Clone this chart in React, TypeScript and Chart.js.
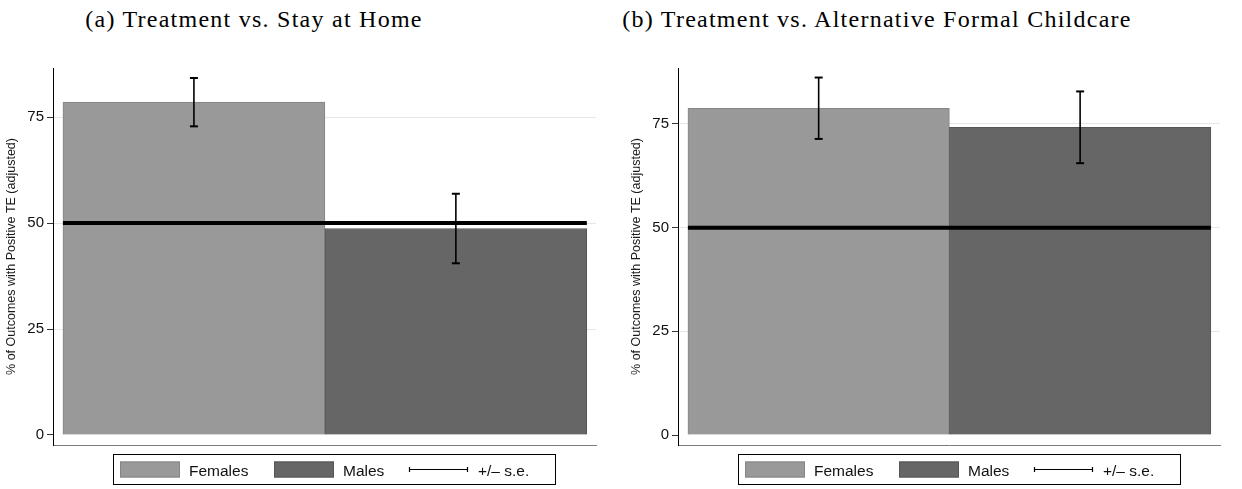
import React, { useEffect, useRef } from 'react';
import { Chart, registerables } from 'chart.js';

Chart.register(...registerables);

// ---------- data ----------
const CATEGORIES = ['Females', 'Males'];
const SE_LABEL = '+/– s.e.';
const BAR_POSITIONS = [0.5, 1.5];
const PANEL_A_VALUES = [78.5, 48.7];
const PANEL_A_SE = [5.7, 8.2];
const PANEL_B_VALUES = [78.8, 74.2];
const PANEL_B_SE = [7.4, 8.65];
const REFERENCE_LEVEL = 50;
const Y_TICKS = [0, 25, 50, 75];
const PANEL_A_Y_RANGE = [-2.36, 86.56];
const PANEL_B_Y_RANGE = [-2.41, 88.5];
const X_RANGE = [-0.038, 2.035];
const TITLES = ['(a) Treatment vs. Stay at Home', '(b) Treatment vs. Alternative Formal Childcare'];
const Y_TITLE = '% of Outcomes with Positive TE (adjusted)';

// ---------- styles ----------
const BAR_COLORS = ['#999999', '#666666'];
const BAR_BORDERS = ['#858585', '#555555'];
const SANS = 'Liberation Sans, Arial, sans-serif';

const stataLegend = {
  id: 'stataLegend',
  afterDraw(chart: any) {
    const { ctx, chartArea } = chart;
    const x0 = Math.round(chartArea.left + 60);
    const y0 = Math.round(chartArea.bottom + 9);
    ctx.save();
    ctx.fillStyle = '#ffffff';
    ctx.fillRect(x0, y0, 442, 30);
    ctx.strokeStyle = '#000000';
    ctx.lineWidth = 1;
    ctx.strokeRect(x0 + 0.5, y0 + 0.5, 442, 30);
    const swatchX = [7, 161];
    const textX = [76, 230];
    ctx.font = `15.5px ${SANS}`;
    ctx.textBaseline = 'alphabetic';
    ctx.textAlign = 'left';
    CATEGORIES.forEach((label, i) => {
      ctx.fillStyle = BAR_COLORS[i];
      ctx.fillRect(x0 + swatchX[i], y0 + 7.5, 60, 16);
      ctx.strokeStyle = BAR_BORDERS[i];
      ctx.strokeRect(x0 + swatchX[i] + 0.5, y0 + 7.5 + 0.5, 59, 15);
      ctx.fillStyle = '#111111';
      ctx.fillText(label, x0 + textX[i], y0 + 21.5);
    });
    // error-bar key
    const ey = y0 + 15.5;
    ctx.strokeStyle = '#000000';
    ctx.lineWidth = 1.2;
    ctx.beginPath();
    ctx.moveTo(x0 + 296, ey);
    ctx.lineTo(x0 + 355, ey);
    ctx.moveTo(x0 + 296.5, ey - 2.5);
    ctx.lineTo(x0 + 296.5, ey + 2.5);
    ctx.moveTo(x0 + 354.5, ey - 2.5);
    ctx.lineTo(x0 + 354.5, ey + 2.5);
    ctx.stroke();
    ctx.fillStyle = '#111111';
    ctx.fillText(SE_LABEL, x0 + 365, y0 + 21.5);
    ctx.restore();
  },
};

type PanelProps = {
  left: number;
  width: number;
  right: number;
  values: number[];
  se: number[];
  yRange: number[];
};

function Panel({ left, width, right, values, se, yRange }: PanelProps) {
  const ref = useRef<HTMLCanvasElement>(null);
  useEffect(() => {
    const edges = [BAR_POSITIONS[0] - 0.5, BAR_POSITIONS[BAR_POSITIONS.length - 1] + 0.5];
    const chart = new Chart(ref.current as HTMLCanvasElement, {
      type: 'bar',
      data: {
        datasets: [
          {
            type: 'bar',
            data: values.map((v, i) => ({ x: BAR_POSITIONS[i], y: v })),
            backgroundColor: BAR_COLORS,
            borderColor: BAR_BORDERS,
            borderWidth: 1,
            barPercentage: 1,
            categoryPercentage: 1,
            order: 2,
          } as any,
          {
            type: 'line',
            data: edges.map((x) => ({ x, y: REFERENCE_LEVEL })),
            borderColor: '#000000',
            borderWidth: 4,
            borderCapStyle: 'butt',
            pointRadius: 0,
            order: 1,
          } as any,
          ...values.map(
            (v, i) =>
              ({
                type: 'line',
                data: [
                  { x: BAR_POSITIONS[i], y: v - se[i] },
                  { x: BAR_POSITIONS[i], y: v + se[i] },
                ],
                borderColor: '#000000',
                borderWidth: 1.6,
                pointStyle: 'line',
                pointRadius: 4,
                pointBorderWidth: 2,
                pointBorderColor: '#000000',
                order: 0,
              } as any)
          ),
        ],
      },
      options: {
        responsive: false,
        animation: false,
        events: [],
        layout: { padding: { top: 68, bottom: 44, left: 0, right } },
        plugins: {
          legend: { display: false },
          tooltip: { enabled: false },
          title: { display: false },
        },
        scales: {
          x: {
            type: 'linear',
            min: X_RANGE[0],
            max: X_RANGE[1],
            offset: false,
            grid: { display: false, drawTicks: false },
            ticks: { display: false },
            border: { display: true, color: '#7a7a7a', width: 1 },
            afterBuildTicks: (ax: any) => {
              ax.ticks = [];
            },
            afterFit: (ax: any) => {
              ax.height = 0;
            },
          },
          y: {
            type: 'linear',
            min: yRange[0],
            max: yRange[1],
            afterBuildTicks: (ax: any) => {
              ax.ticks = Y_TICKS.map((value) => ({ value }));
            },
            afterFit: (ax: any) => {
              ax.width = 53;
            },
            grid: {
              color: (c: any) => (c.tick && c.tick.value === 0 ? 'rgba(0,0,0,0)' : '#e6e6e6'),
              lineWidth: 1,
              tickLength: 6,
              tickColor: '#333333',
              tickWidth: 1,
            },
            border: { display: true, color: '#000000', width: 1 },
            ticks: {
              color: '#111111',
              font: { family: SANS, size: 15 },
              padding: 3,
            },
            title: {
              display: true,
              text: Y_TITLE,
              color: '#1a1a1a',
              font: { family: SANS, size: 12.5 },
              padding: { top: 4, bottom: 0 },
            },
          },
        },
      } as any,
      plugins: [stataLegend],
    });
    return () => chart.destroy();
  }, []);
  return (
    <canvas
      ref={ref}
      width={width}
      height={489}
      style={{ position: 'absolute', left, top: 0, width, height: 489 }}
    />
  );
}

const captionStyle = (center: number): React.CSSProperties => ({
  position: 'absolute',
  left: center - 320,
  width: 640,
  top: 7,
  textAlign: 'center',
  fontFamily: 'Liberation Serif, serif',
  fontSize: 24,
  letterSpacing: '1.25px',
  lineHeight: 1,
  whiteSpace: 'nowrap',
  color: '#000',
});

export default function App() {
  return (
    <div
      style={{
        position: 'absolute',
        left: 0,
        top: 0,
        width: 1242,
        height: 489,
        background: '#ffffff',
        overflow: 'hidden',
      }}
    >
      <div style={captionStyle(254)}>{TITLES[0]}</div>
      <div style={captionStyle(877)}>{TITLES[1]}</div>
      <Panel left={0} width={610} right={14} values={PANEL_A_VALUES} se={PANEL_A_SE} yRange={PANEL_A_Y_RANGE} />
      <Panel left={625} width={617} right={22} values={PANEL_B_VALUES} se={PANEL_B_SE} yRange={PANEL_B_Y_RANGE} />
    </div>
  );
}
